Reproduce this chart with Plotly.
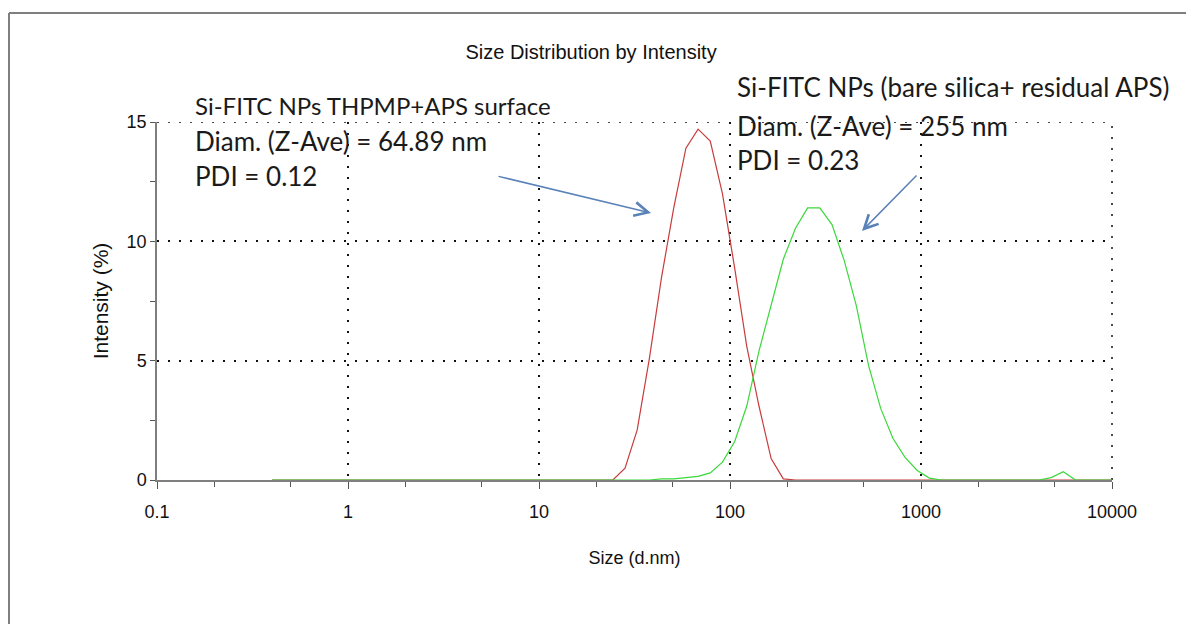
import plotly.graph_objects as go

sizes = [0.4, 0.4632, 0.5365, 0.6213, 0.7195, 0.8332, 0.9649, 1.117, 1.294, 1.499,
         1.736, 2.01, 2.328, 2.696, 3.122, 3.615, 4.187, 4.849, 5.615, 6.503,
         7.531, 8.721, 10.1, 11.7, 13.54, 15.69, 18.17, 21.04, 24.36, 28.21,
         32.67, 37.84, 43.82, 50.75, 58.77, 68.06, 78.82, 91.28, 105.7, 122.4,
         141.8, 164.2, 190.1, 220.2, 255.0, 295.3, 342.0, 396.1, 458.7, 531.2,
         615.1, 712.4, 825.0, 955.4, 1106, 1281, 1484, 1718, 1990, 2305,
         2669, 3091, 3580, 4145, 4801, 5560, 6439, 7456, 8635, 10000]

red_thpmp = [0, 0, 0, 0, 0, 0, 0, 0, 0, 0,
             0, 0, 0, 0, 0, 0, 0, 0, 0, 0,
             0, 0, 0, 0, 0, 0, 0, 0, 0.0, 0.5,
             2.1, 5.1, 8.5, 11.4, 13.9, 14.7, 14.2, 12.0, 8.9, 5.6,
             3.1, 0.9, 0.05, 0, 0, 0, 0, 0, 0, 0,
             0, 0, 0, 0, 0, 0, 0, 0, 0, 0,
             0, 0, 0, 0, 0, 0, 0, 0, 0, 0]

green_bare = [0, 0, 0, 0, 0, 0, 0, 0, 0, 0,
              0, 0, 0, 0, 0, 0, 0, 0, 0, 0,
              0, 0, 0, 0, 0, 0, 0, 0, 0, 0,
              0, 0, 0.05, 0.05, 0.1, 0.15, 0.3, 0.75, 1.6, 3.1,
              5.4, 7.35, 9.25, 10.55, 11.4, 11.4, 10.7, 9.2, 7.3, 4.8,
              3.0, 1.75, 0.95, 0.4, 0.08, 0, 0, 0, 0, 0,
              0, 0, 0, 0, 0.1, 0.35, 0, 0, 0, 0]

x_tickvals = [0.1, 1, 10, 100, 1000, 10000]
x_ticktext = ["0.1", "1", "10", "100", "1000", "10000"]
y_tickvals = [0, 5, 10, 15]
y_max = 15

fig = go.Figure()
fig.add_trace(go.Scatter(x=sizes, y=red_thpmp, mode="lines",
                         line=dict(color="#c83c3c", width=1.2),
                         name="Si-FITC NPs THPMP+APS surface", showlegend=False))
fig.add_trace(go.Scatter(x=sizes, y=green_bare, mode="lines",
                         line=dict(color="#3ad83a", width=1.2),
                         name="Si-FITC NPs (bare silica+ residual APS)", showlegend=False))

axis_font = dict(family="Liberation Sans, Arial, sans-serif", size=18, color="#111")
dot = "2px,9px"
grid_line = dict(color="#111", width=1.5, dash=dot)

# page offset of the figure (body margin 8px)
OFF = 8
fig.update_layout(
    width=1194 - OFF, height=624 - OFF,
    margin=dict(l=157 - OFF, r=82, t=122 - OFF, b=144),
    paper_bgcolor="white", plot_bgcolor="white",
    title=dict(text="Size Distribution by Intensity",
               font=dict(family="Liberation Sans, Arial", size=20, color="#111"),
               x=0.4545, xref="paper", xanchor="center",
               y=1 - (52 - OFF) / (624 - OFF), yref="container", yanchor="middle"),
    xaxis=dict(type="log", range=[-1, 4],
               tickvals=x_tickvals, ticktext=x_ticktext,
               ticks="outside", ticklen=7, tickcolor="#555", tickwidth=1,
               ticklabelstandoff=8,
               showline=True, linecolor="#7f7f7f", linewidth=1.5,
               showgrid=True, gridcolor="#111", gridwidth=1.5, griddash=dot,
               zeroline=False, tickfont=axis_font,
               minor=dict(ticks="outside", ticklen=5, tickcolor="#555", showgrid=False),
               title=dict(text="Size (d.nm)", font=dict(family="Liberation Sans, Arial", size=18, color="#111"),
                          standoff=30)),
    yaxis=dict(range=[0, y_max], tickvals=y_tickvals,
               ticks="outside", ticklen=5, tickcolor="#555", tickwidth=1,
               showline=True, linecolor="#7f7f7f", linewidth=1.5,
               showgrid=True, gridcolor="#111", gridwidth=1.5, griddash=dot,
               zeroline=False, tickfont=axis_font,
               minor=dict(dtick=2.5, ticks="outside", ticklen=5, tickcolor="#555", showgrid=False),
               title=dict(text="Intensity (%)", font=dict(family="Liberation Sans, Arial", size=21, color="#111"),
                          standoff=12)),
)

# grid lines on the plot edges (top at 15, right at 10000)
fig.add_shape(type="line", xref="paper", yref="y", x0=0, x1=1, y0=y_max, y1=y_max,
              line=grid_line, layer="below")
fig.add_shape(type="line", xref="paper", yref="paper", x0=1, x1=1, y0=0, y1=1,
              line=grid_line, layer="below")

def px_to_paper(px, py):
    return (px - 157) / 955, (480 - py) / 358

left_lines = [("Si-FITC NPs THPMP+APS surface", 105, 24),
              ("Diam. (Z-Ave) = 64.89 nm", 141, 26),
              ("PDI = 0.12", 176, 26)]
right_lines = [("Si-FITC NPs (bare silica+ residual APS)", 87, 26),
               ("Diam. (Z-Ave) = 255 nm", 126, 26),
               ("PDI = 0.23", 160, 26)]
for txt, py, fs in left_lines:
    xp, yp = px_to_paper(193, py)
    fig.add_annotation(text=txt, x=xp, y=yp, xref="paper", yref="paper",
                       xanchor="left", yanchor="middle", showarrow=False,
                       font=dict(family="Lato, Noto Sans, sans-serif", size=fs, color="#1a1a1a"))
for txt, py, fs in right_lines:
    xp, yp = px_to_paper(735, py)
    fig.add_annotation(text=txt, x=xp, y=yp, xref="paper", yref="paper",
                       xanchor="left", yanchor="middle", showarrow=False,
                       font=dict(family="Lato, Noto Sans, sans-serif", size=fs, color="#1a1a1a"))

arrow_color = "#5a82b8"
hx, hy = px_to_paper(651, 213)
fig.add_annotation(x=hx, y=hy, xref="paper", yref="paper", ax=-154, ay=-37,
                   axref="pixel", ayref="pixel", text="", showarrow=True,
                   arrowhead=5, arrowsize=1.8, arrowwidth=1.5, arrowcolor=arrow_color)
hx, hy = px_to_paper(862, 231)
fig.add_annotation(x=hx, y=hy, xref="paper", yref="paper", ax=56, ay=-57,
                   axref="pixel", ayref="pixel", text="", showarrow=True,
                   arrowhead=5, arrowsize=1.8, arrowwidth=1.5, arrowcolor=arrow_color)

# outer frame (top and left edges)
x0, y0 = px_to_paper(9, 13)
x1, _ = px_to_paper(1194, 13)
_, yb = px_to_paper(9, 624)
fig.add_shape(type="line", xref="paper", yref="paper", x0=x0, y0=y0, x1=x1, y1=y0,
              line=dict(color="#7f7f7f", width=2))
fig.add_shape(type="line", xref="paper", yref="paper", x0=x0, y0=y0, x1=x0, y1=yb,
              line=dict(color="#7f7f7f", width=2))

fig.write_html("out.html")
